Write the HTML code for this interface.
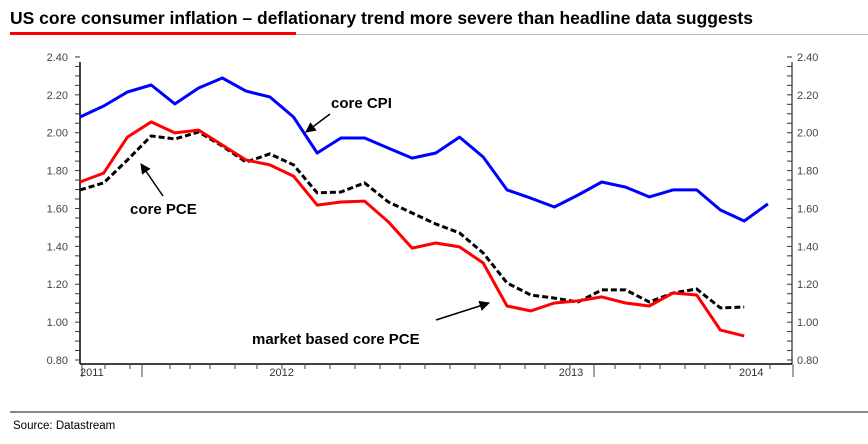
<!DOCTYPE html>
<html><head><meta charset="utf-8"><style>
body{margin:0;width:868px;height:439px;background:#fff;overflow:hidden;font-family:"Liberation Sans",sans-serif}
</style></head><body>
<svg width="868" height="439" viewBox="0 0 868 439">
<text x="10" y="24" font-size="17.5" font-weight="bold" fill="#000">US core consumer inflation – deflationary trend more severe than headline data suggests</text>
<line x1="10" y1="33.5" x2="296" y2="33.5" stroke="#f00" stroke-width="3"/>
<line x1="296" y1="34.5" x2="868" y2="34.5" stroke="#bbb" stroke-width="1"/>
<g id="axes"></g>
<g id="series"></g>
<g font-size="15" font-weight="bold" fill="#000">
<text x="331" y="108">core CPI</text>
<text x="130" y="214">core PCE</text>
<text x="252" y="344">market based core PCE</text>
</g>
<defs><marker id="ah" viewBox="0 0 10 10" refX="9" refY="5" markerWidth="7" markerHeight="7" orient="auto"><path d="M0,0L10,5L0,10z" fill="#000"/></marker></defs>
<line x1="330" y1="114" x2="306" y2="132" stroke="#000" stroke-width="1.5" marker-end="url(#ah)"/>
<line x1="163" y1="196" x2="141" y2="164" stroke="#000" stroke-width="1.5" marker-end="url(#ah)"/>
<line x1="436" y1="320" x2="489" y2="303" stroke="#000" stroke-width="1.5" marker-end="url(#ah)"/>
<line x1="10" y1="412" x2="868" y2="412" stroke="#888" stroke-width="2"/>
<text x="13" y="429" font-size="11.5" fill="#000">Source: Datastream</text>
</svg>
<script>
const yTicks=[0.8,1.0,1.2,1.4,1.6,1.8,2.0,2.2,2.4];
const yTickLabels=["0.80","1.00","1.20","1.40","1.60","1.80","2.00","2.20","2.40"];
const years=["2011","2012","2013","2014"];
const yearPos=[0.5,8.5,20.7,28.3];
const coreCPI=[2.083,2.141,2.215,2.252,2.152,2.236,2.289,2.220,2.189,2.083,1.893,1.972,1.972,1.919,1.866,1.893,1.977,1.872,1.698,1.655,1.608,1.671,1.740,1.713,1.661,1.698,1.698,1.592,1.534,1.624];
const corePCE=[1.698,1.735,1.856,1.983,1.967,2.004,1.930,1.845,1.888,1.830,1.682,1.687,1.735,1.634,1.576,1.518,1.471,1.365,1.207,1.143,1.127,1.106,1.170,1.170,1.106,1.154,1.175,1.075,1.080];
const marketPCE=[1.740,1.787,1.977,2.057,1.999,2.014,1.935,1.856,1.830,1.771,1.618,1.634,1.639,1.529,1.391,1.418,1.397,1.312,1.085,1.059,1.101,1.112,1.133,1.101,1.085,1.154,1.143,0.958,0.927];
const NS="http://www.w3.org/2000/svg";
const X0=80,DX=23.72,Y0=360,SC=189.4;
function xs(i){return X0+DX*i}
function ys(v){return Y0-(v-0.8)*SC}
function mk(t,a,p){const e=document.createElementNS(NS,t);for(const k in a)e.setAttribute(k,a[k]);p.appendChild(e);return e}
const ax=document.getElementById('axes');
let l=mk('line',{x1:80,y1:62,x2:80,y2:364,stroke:'#000','stroke-width':1.5},ax);


l=mk('line',{x1:792,y1:62,x2:792,y2:364,stroke:'#000','stroke-width':1},ax);


l=mk('line',{x1:80,y1:364,x2:792,y2:364,stroke:'#000','stroke-width':1.5},ax);


for(let v=0.8;v<=2.401;v+=0.05){const y=ys(v);
 let t=mk('line',{x1:75,y1:y,x2:80,y2:y,stroke:'#333','stroke-width':1},ax);
 
 
 t=mk('line',{x1:787,y1:y,x2:792,y2:y,stroke:'#333','stroke-width':1},ax);
 
 }
yTicks.forEach((v,i)=>{const y=ys(v)+4;
 let t=mk('text',{x:68,y:y,'text-anchor':'end','font-size':11,fill:'#444'},ax);t.textContent=yTickLabels[i];
 
 
 t=mk('text',{x:797,y:y,'font-size':11,fill:'#444'},ax);t.textContent=yTickLabels[i];
 
 });
[82,105,130,142,170,190,210,235,257,282,305,330,355,380,400,425,450,475,500,525,545,570,594,615,640,660,685,705,730,770,793].forEach(x=>{
 const big=[82,142,594,793].includes(x);
 const t=mk('line',{x1:x,y1:364,x2:x,y2:big?377:369,stroke:'#444','stroke-width':1},ax);
 
 });
years.forEach((yr,i)=>{const t=mk('text',{x:xs(yearPos[i]),y:376,'text-anchor':'middle','font-size':11,fill:'#333'},ax);t.textContent=yr;
 
 });
const sg=document.getElementById('series');
function pts(a){return a.map((v,i)=>xs(i).toFixed(1)+','+ys(v).toFixed(1)).join(' ')}
let p=mk('polyline',{points:pts(coreCPI),fill:'none',stroke:'#0000ff','stroke-width':3,'stroke-linejoin':'round'},sg);


p=mk('polyline',{points:pts(corePCE),fill:'none',stroke:'#000','stroke-width':3,'stroke-dasharray':'6,3'},sg);


p=mk('polyline',{points:pts(marketPCE),fill:'none',stroke:'#ff0000','stroke-width':3,'stroke-linejoin':'round'},sg);


</script>
</body></html>
